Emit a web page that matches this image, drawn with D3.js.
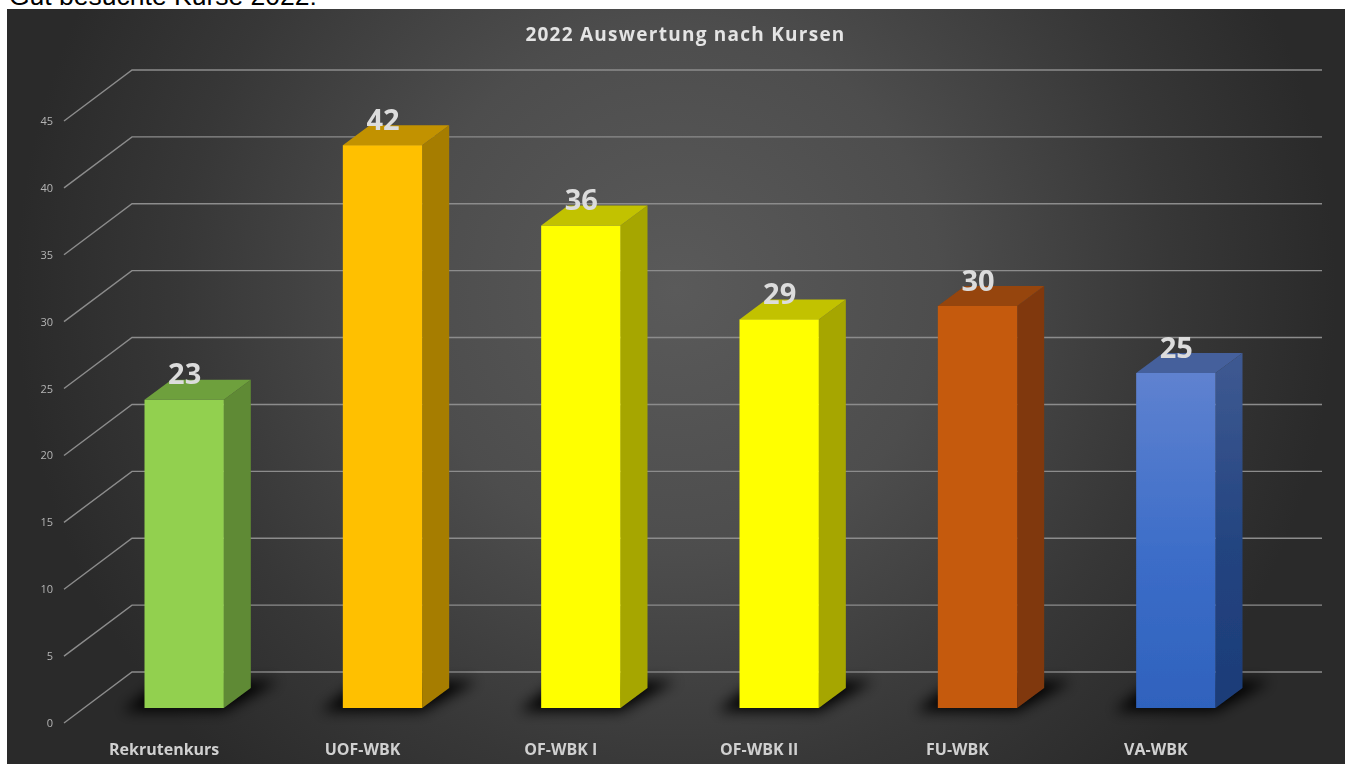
<!DOCTYPE html>
<html>
<head>
<meta charset="utf-8">
<script src="https://cdn.jsdelivr.net/npm/d3@7"></script>
<style>
    html, body { margin: 0; padding: 0; background: #fff; overflow: hidden; }
    text { font-family: "Open Sans", "Noto Sans", sans-serif; }
</style>
</head>
<body>
<div id="chart"></div>
<script>
var categories = ["Rekrutenkurs", "UOF-WBK", "OF-WBK I", "OF-WBK II", "FU-WBK", "VA-WBK"];
var values = [23, 42, 36, 29, 30, 25];
var yTicks = [0, 5, 10, 15, 20, 25, 30, 35, 40, 45];
var frontColors = ["#92d050", "#ffc000", "#ffff00", "#ffff00", "#c55a11", null];
var topColors = ["#6ea03c", "#c29200", "#c2c200", "#c2c200", "#964409", "#44609c"];
var sideColors = ["#5f8a34", "#a67d00", "#a6a600", "#a6a600", "#80390c", null];

function init() {
    var w = 1352;
    var h = 764;
    var depthX = 27, depthY = -20; // bar depth
    var wallX = 68, wallY = -51;   // floor depth

    var svg = d3.select("#chart").append("svg")
        .attr("width", w)
        .attr("height", h);

    var defs = svg.append("defs");

    var bg = defs.append("radialGradient").attr("id", "bg")
        .attr("gradientUnits", "userSpaceOnUse")
        .attr("cx", 676).attr("cy", 290).attr("r", 660);
    bg.append("stop").attr("offset", "0").attr("stop-color", "#5a5a5a");
    bg.append("stop").attr("offset", "0.4").attr("stop-color", "#4d4d4d");
    bg.append("stop").attr("offset", "0.75").attr("stop-color", "#373737");
    bg.append("stop").attr("offset", "1").attr("stop-color", "#2a2a2a");

    var blueFront = defs.append("linearGradient").attr("id", "blueFront")
        .attr("x1", 0).attr("y1", 0).attr("x2", 0).attr("y2", 1);
    blueFront.append("stop").attr("offset", "0").attr("stop-color", "#5f82d0");
    blueFront.append("stop").attr("offset", "0.55").attr("stop-color", "#3c6dc8");
    blueFront.append("stop").attr("offset", "1").attr("stop-color", "#2f62bd");

    var blueSide = defs.append("linearGradient").attr("id", "blueSide")
        .attr("x1", 0).attr("y1", 0).attr("x2", 0).attr("y2", 1);
    blueSide.append("stop").attr("offset", "0").attr("stop-color", "#3f5a92");
    blueSide.append("stop").attr("offset", "0.55").attr("stop-color", "#234480");
    blueSide.append("stop").attr("offset", "1").attr("stop-color", "#1c3c78");

    defs.append("filter").attr("id", "blur")
        .attr("x", "-30%").attr("y", "-100%").attr("width", "160%").attr("height", "300%")
        .append("feGaussianBlur").attr("stdDeviation", 7);

    // soft look of the scanned screenshot
    defs.append("filter").attr("id", "soft")
        .attr("filterUnits", "userSpaceOnUse")
        .attr("x", 0).attr("y", 0).attr("width", w).attr("height", h)
        .append("feGaussianBlur").attr("stdDeviation", 0.45);

    // Caption cut off by the picture
    svg.append("text")
        .attr("x", 9).attr("y", 5)
        .style("font-family", "'Liberation Sans', Arial, sans-serif")
        .style("font-size", "26.5px")
        .attr("fill", "#000")
        .text("Gut besuchte Kurse 2022:");

    svg.append("rect")
        .attr("x", 7).attr("y", 9)
        .attr("width", 1338).attr("height", 755)
        .attr("fill", "url(#bg)");

    var chart = svg.append("g").attr("filter", "url(#soft)");

    // Set up the scales
    var yScale = d3.scaleLinear().domain([0, 45]).range([723, 121]);
    var barY = d3.scaleLinear().domain([0, 45]).range([708, 105]);
    var xScale = d3.scaleBand()
        .domain(categories)
        .range([85, 1275])
        .paddingInner(0.6)
        .paddingOuter(0.3);
    var x0 = 64;

    // Gridlines on the floor edge and back wall
    var grid = chart.append("g");
    yTicks.forEach(function(t) {
        var y = yScale(t);
        grid.append("path")
            .attr("d", d3.line()([[x0, y], [x0 + wallX, y + wallY], [1322, y + wallY]]))
            .attr("fill", "none")
            .attr("stroke", "#8c8c8c")
            .attr("stroke-width", 1.4);
        chart.append("text")
            .attr("x", 53).attr("y", y + 4)
            .attr("text-anchor", "end")
            .attr("fill", "#b4b4b4")
            .style("font-size", "11px")
            .text(t);
    });

    // Title
    chart.append("text")
        .attr("x", 685.5).attr("y", 41)
        .attr("text-anchor", "middle")
        .attr("fill", "#e4e4e4")
        .style("font-size", "19px")
        .style("font-weight", 700)
        .style("letter-spacing", "1.25px")
        .text("2022 Auswertung nach Kursen");

    // Bars
    var bars = chart.selectAll(".bar").data(categories).enter().append("g").attr("class", "bar");

    bars.append("path") // shadow on the floor
        .attr("d", function(d) {
            var x = xScale(d), bw = xScale.bandwidth(), b = barY(0);
            return d3.line()([[x - 22, b + 3], [x + bw, b + 3], [x + bw + depthX + 28, b + depthY - 7], [x + depthX - 10, b + depthY - 7]]);
        })
        .attr("fill", "#000")
        .attr("filter", "url(#blur)");

    bars.append("path") // side
        .attr("d", function(d, i) {
            var x = xScale(d) + xScale.bandwidth(), t = barY(values[i]), b = barY(0);
            return d3.line()([[x, t], [x + depthX, t + depthY], [x + depthX, b + depthY], [x, b]]);
        })
        .attr("fill", function(d, i) { return sideColors[i] || "url(#blueSide)"; });

    bars.append("path") // top
        .attr("d", function(d, i) {
            var x = xScale(d), bw = xScale.bandwidth(), t = barY(values[i]);
            return d3.line()([[x, t], [x + bw, t], [x + bw + depthX, t + depthY], [x + depthX, t + depthY]]);
        })
        .attr("fill", function(d, i) { return topColors[i]; });

    bars.append("rect") // front
        .attr("x", function(d) { return xScale(d); })
        .attr("y", function(d, i) { return barY(values[i]); })
        .attr("width", xScale.bandwidth())
        .attr("height", function(d, i) { return barY(0) - barY(values[i]); })
        .attr("fill", function(d, i) { return frontColors[i] || "url(#blueFront)"; });

    // Value labels
    bars.append("text")
        .attr("x", function(d) { return xScale(d) + xScale.bandwidth() / 2 + 0.5; })
        .attr("y", function(d, i) { return barY(values[i]) - 15.5; })
        .attr("text-anchor", "middle")
        .attr("fill", "#dcdcdc")
        .style("font-size", "29px")
        .style("font-weight", 700)
        .text(function(d, i) { return values[i]; });

    // Category labels
    bars.append("text")
        .attr("x", function(d) { return xScale(d) + xScale.bandwidth() / 2 - 20; })
        .attr("y", 755)
        .attr("text-anchor", "middle")
        .attr("fill", "#d0d0d0")
        .style("font-size", "16px")
        .style("font-weight", 700)
        .text(function(d) { return d; });
}
window.onload = init;
</script>
</body>
</html>
